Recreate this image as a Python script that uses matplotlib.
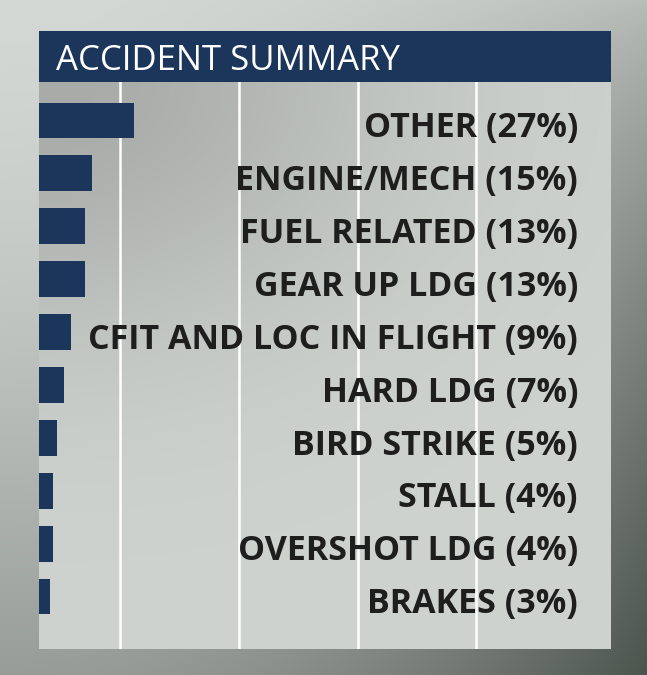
import numpy as np
import matplotlib
matplotlib.use('Agg')
import matplotlib.pyplot as plt
from matplotlib import font_manager

# accident categories, top to bottom, and their share in percent
categories = ['OTHER', 'ENGINE/MECH', 'FUEL RELATED', 'GEAR UP LDG',
              'CFIT AND LOC IN FLIGHT', 'HARD LDG', 'BIRD STRIKE',
              'STALL', 'OVERSHOT LDG', 'BRAKES']
shares = [27, 15, 13, 13, 9, 7, 5, 4, 4, 3]
title = 'ACCIDENT SUMMARY'

NAVY = '#1c365b'
W, H = 647, 675

names = {f.name for f in font_manager.fontManager.ttflist}
if 'Liberation Sans Narrow' in names:
    label_font, label_size = 'Liberation Sans Narrow', 28.5
else:
    label_font, label_size = 'Open Sans', 24.5

fig = plt.figure(figsize=(W / 100, H / 100), dpi=100)

# outer background, darker to the bottom right
yy, xx = np.mgrid[0:H, 0:W]
u = xx / (W - 1)
v = yy / (H - 1)
t = 0.2 * u**2 + 0.45 * v**1.5 * (1 - u**2) + 0.8 * v**0.8 * u**2
light = np.array([212, 216, 213]) / 255
dark = np.array([76, 84, 78]) / 255
bg = light + (dark - light) * t[..., None]
bg_ax = fig.add_axes([0, 0, 1, 1])
bg_ax.imshow(bg, aspect='auto', extent=[0, W, H, 0])
bg_ax.axis('off')

# chart panel (pixel box of the reference)
px0, px1, py0, py1 = 39, 611, 82, 649
ax = fig.add_axes([px0 / W, (H - py1) / H, (px1 - px0) / W, (py1 - py0) / H])
xmax = (px1 - px0) / 3.5
ytop, ybot = -0.728, len(categories) - 1 + 0.993

py, pxx = np.mgrid[py0:py1, px0:px1]
s = np.exp(-((pxx - px0) / 350.0)**2 - ((py - py0) / 250.0)**2)
p_light = np.array([206, 211, 208]) / 255
p_dark = np.array([168, 171, 167]) / 255
panel = p_light + (p_dark - p_light) * s[..., None]
ax.imshow(panel, aspect='auto', extent=[0, xmax, ybot, ytop], zorder=0)

# white guide lines
for gx in [23.1, 57.1, 91.1, 124.9]:
    ax.axvline(gx, color='white', lw=1.8, zorder=1)

y = np.arange(len(categories))
ax.barh(y, shares, height=0.68, color=NAVY, zorder=2)

for i, (c, p) in enumerate(zip(categories, shares)):
    ax.text((578 - px0) / 3.5, i + 0.317, '%s (%d%%)' % (c, p),
            ha='right', va='baseline', fontsize=label_size, fontweight='bold',
            family=label_font, color='#1e1e1e', zorder=3)

ax.set_xlim(0, xmax)
ax.set_ylim(ybot, ytop)
ax.axis('off')

# title bar
tax = fig.add_axes([px0 / W, (H - py0) / H, (px1 - px0) / W, 51 / H])
tax.set_facecolor(NAVY)
tax.set_xticks([])
tax.set_yticks([])
for sp in tax.spines.values():
    sp.set_visible(False)
tax.text((56 - px0) / (px1 - px0), 12 / 51, title, color='white',
         family='Open Sans', fontsize=25, va='baseline', ha='left')

fig.savefig('out.png', dpi=100)
